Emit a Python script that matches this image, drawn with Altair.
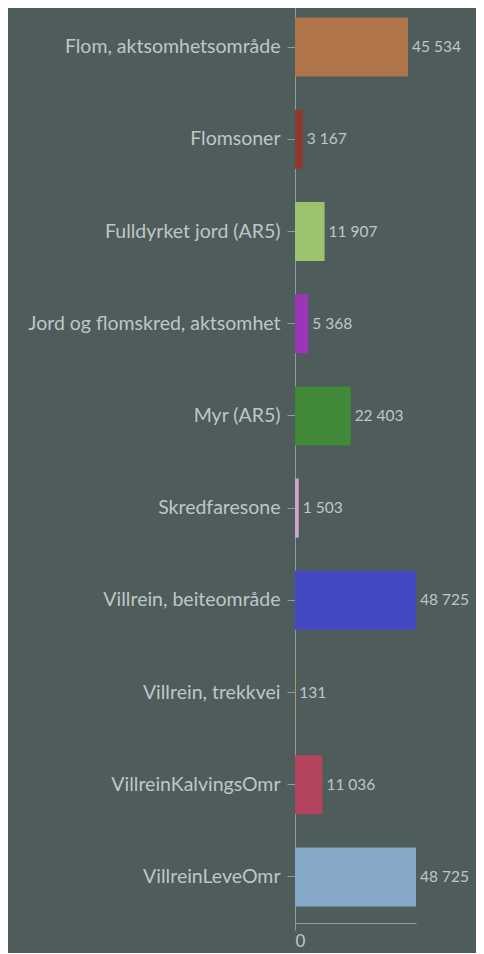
import altair as alt
import pandas as pd

categories = [
    "Flom, aktsomhetsområde",
    "Flomsoner",
    "Fulldyrket jord (AR5)",
    "Jord og flomskred, aktsomhet",
    "Myr (AR5)",
    "Skredfaresone",
    "Villrein, beiteområde",
    "Villrein, trekkvei",
    "VillreinKalvingsOmr",
    "VillreinLeveOmr",
]
values = [45534, 3167, 11907, 5368, 22403, 1503, 48725, 131, 11036, 48725]
colors = [
    "#b0744a", "#8e3a2c", "#9cc46e", "#9c36b4", "#418a3c",
    "#d2a6cc", "#4449c2", "#c9a035", "#b4435d", "#86a9ca",
]

df = pd.DataFrame({
    "cat": categories,
    "value": values,
    "color": colors,
    "label": [f"{v:,}".replace(",", " ") for v in values],
})

FONT = "Lato"
TEXT = "#bec7c6"
LINE = "#8c9e9f"

y = alt.Y("cat:N", sort=categories, title=None,
          scale=alt.Scale(paddingInner=0.36, paddingOuter=0.18),
          axis=alt.Axis(labelFont=FONT, labelFontSize=19.5, labelColor=TEXT,
                        domainColor=LINE, tickColor=LINE, tickSize=8,
                        labelPadding=7, labelLimit=400))
x = alt.X("value:Q", title=None,
          scale=alt.Scale(domain=[0, 48725], nice=False),
          axis=alt.Axis(values=[0], grid=False, labelFont=FONT, labelFontSize=17,
                        labelColor=TEXT, domainColor=LINE, tickColor=LINE,
                        tickSize=7, labelPadding=3))

bars = alt.Chart(df).mark_bar().encode(
    y=y, x=x, color=alt.Color("color:N", scale=None)
)
text = alt.Chart(df).mark_text(align="left", baseline="middle", dx=4,
                               font=FONT, fontSize=15.5, color=TEXT).encode(
    y=alt.Y("cat:N", sort=categories), x="value:Q", text="label:N"
)

chart = (bars + text).properties(
    width=121, height=922,
    autosize=alt.AutoSizeParams(type="none"),
    padding={"left": 287, "top": -7, "right": 60, "bottom": 30},
    background="#4f5c5c",
).configure_view(stroke=None)

chart.save("out.html", embed_options={"renderer": "svg", "actions": False})
